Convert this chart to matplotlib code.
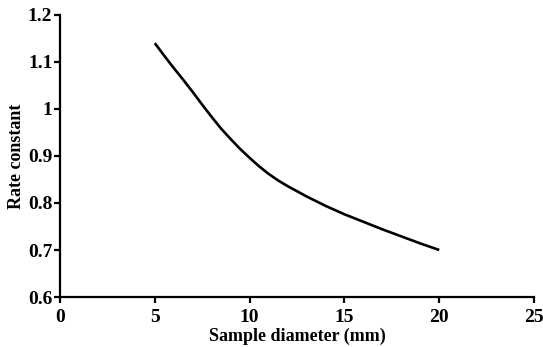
import numpy as np
import matplotlib.pyplot as plt

diameter = [5, 5.5, 6, 6.5, 7, 7.5, 8, 8.5, 9, 9.5, 10, 10.5, 11, 11.5, 12,
            12.5, 13, 13.5, 14, 14.5, 15, 16, 17, 18, 19, 20]
rate = [1.14, 1.113, 1.087, 1.062, 1.036, 1.009, 0.983, 0.958, 0.936, 0.915,
        0.896, 0.878, 0.862, 0.848, 0.836, 0.825, 0.814, 0.804, 0.794, 0.785,
        0.776, 0.760, 0.744, 0.729, 0.714, 0.70]

xticks = [0, 5, 10, 15, 20, 25]
yticks = [0.6, 0.7, 0.8, 0.9, 1.0, 1.1, 1.2]
ylabels = ['0.6', '0.7', '0.8', '0.9', '1', '1.1', '1.2']

plt.rcParams['font.family'] = 'Liberation Serif'
plt.rcParams['font.weight'] = 'bold'

fig = plt.figure(figsize=(5.43, 3.47), dpi=100)
ax = fig.add_axes([0.1105, 0.144, 0.873, 0.813])
ax.plot(diameter, rate, color='black', lw=1.9, solid_capstyle='butt')

ax.set_xlim(0, 25)
ax.set_ylim(0.6, 1.2)
ax.set_xticks(xticks)
ax.set_yticks(yticks)
ax.set_yticklabels(ylabels)
ax.spines['top'].set_visible(False)
ax.spines['right'].set_visible(False)
for s in ['left', 'bottom']:
    ax.spines[s].set_linewidth(1.6)
ax.tick_params(axis='both', direction='out', length=4.5, width=1.6, labelsize=14)
ax.tick_params(axis='x', pad=4)
ax.tick_params(axis='y', pad=1)

ax.set_xlabel('Sample diameter (mm)', fontsize=13, fontweight='bold', labelpad=1)
ax.set_ylabel('Rate constant', fontsize=13, fontweight='bold', labelpad=2)

fig.savefig('out.png', dpi=100)
